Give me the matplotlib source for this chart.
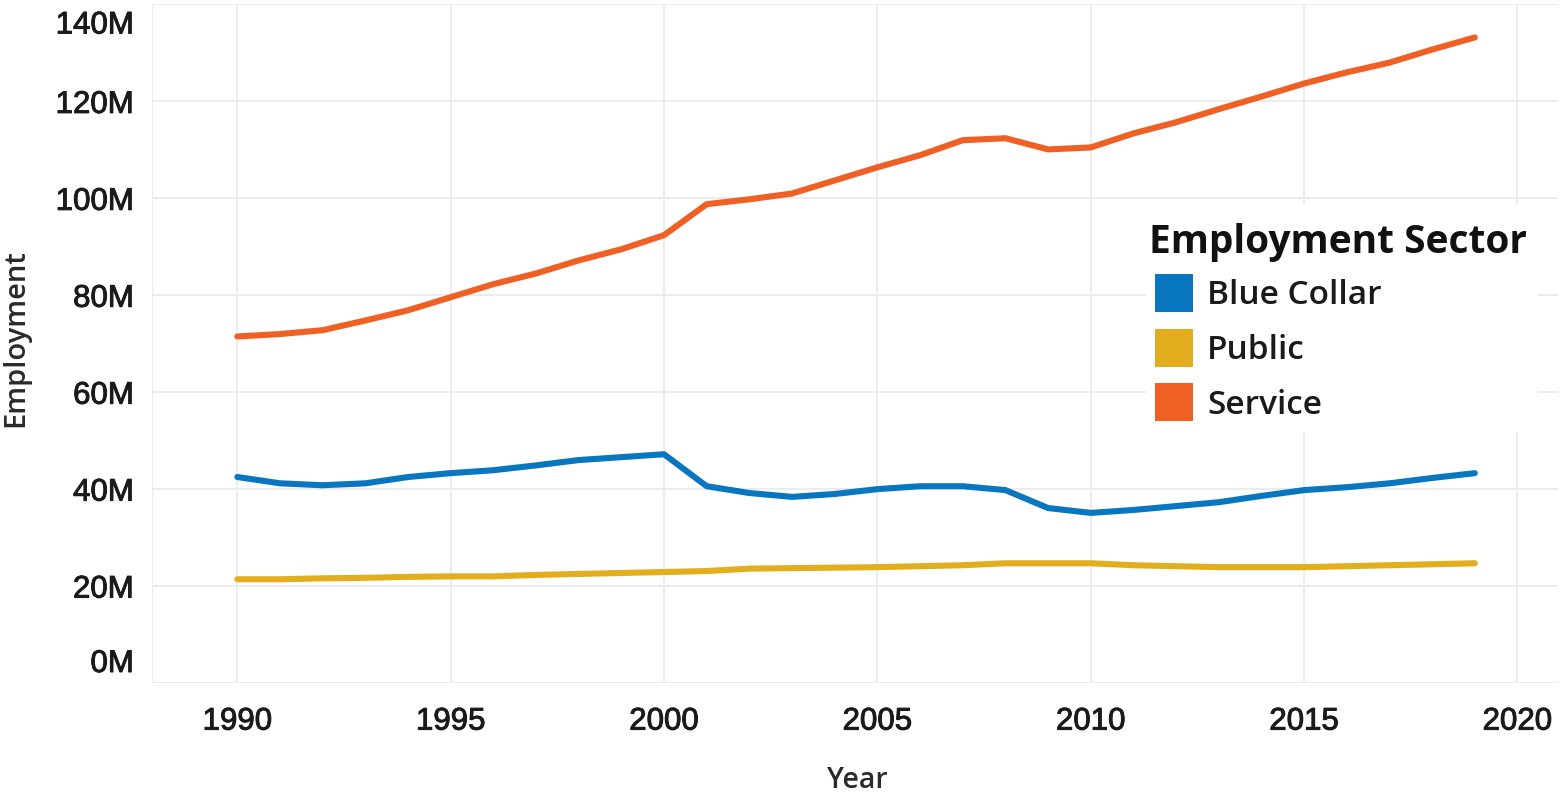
import matplotlib.pyplot as plt
import matplotlib.patheffects as pe
import matplotlib.transforms as mtransforms
from matplotlib.patches import Rectangle

years = list(range(1990, 2020))

# employment in millions
blue_collar = [42.5, 41.2, 40.8, 41.2, 42.5, 43.3, 43.9, 44.9, 46.0, 46.6,
               47.2, 40.6, 39.2, 38.4, 39.0, 40.0, 40.6, 40.6, 39.8, 36.1,
               35.1, 35.7, 36.5, 37.3, 38.6, 39.8, 40.4, 41.2, 42.3, 43.3]
public = [21.4, 21.4, 21.6, 21.7, 21.9, 22.0, 22.0, 22.3, 22.5, 22.7,
          22.9, 23.1, 23.6, 23.7, 23.8, 23.9, 24.1, 24.3, 24.7, 24.7,
          24.7, 24.3, 24.1, 23.9, 23.9, 23.9, 24.1, 24.3, 24.5, 24.7]
service = [71.5, 72.0, 72.8, 74.8, 76.9, 79.6, 82.3, 84.5, 87.2, 89.5,
           92.4, 98.8, 99.8, 101.0, 103.7, 106.4, 108.9, 112.0, 112.4, 110.1,
           110.5, 113.4, 115.7, 118.4, 121.0, 123.7, 126.0, 128.0, 130.7, 133.2]

sectors = ["Blue Collar", "Public", "Service"]
colors = ["#0877c0", "#e3ae1e", "#f05f24"]
series = [blue_collar, public, service]

y_ticks = [0, 20, 40, 60, 80, 100, 120, 140]
x_ticks = [1990, 1995, 2000, 2005, 2010, 2015, 2020]

W, H = 1560, 792
fig = plt.figure(figsize=(W / 100, H / 100), dpi=100)
ax = fig.add_axes([152 / W, (H - 683) / H, (1558 - 152) / W, (683 - 4) / H])


def px(x, y):
    # pixel position (from top-left) -> figure fraction
    return x / W, 1 - y / H


for vals, col, name in zip(series, colors, sectors):
    ax.plot(years, [v * 1e6 for v in vals], color=col, lw=4.4,
            solid_capstyle="round", solid_joinstyle="round", label=name, zorder=3)

ax.set_xlim(1988.0, 2020.95)
ax.set_ylim(0, 140.1e6)
ax.set_xticks(x_ticks)
ax.set_yticks([t * 1e6 for t in y_ticks])
ax.set_yticklabels([f"{t}M" for t in y_ticks])

for s in ax.spines.values():
    s.set_visible(False)
ax.grid(True, color="#ececec", lw=1.4)
ax.set_axisbelow(True)
ax.axvline(1988.0, color="#ececec", lw=1.4, zorder=0)
ax.tick_params(length=0, labelsize=22.5, labelcolor="#1a1a1a")
ax.tick_params(axis="y", pad=13)
ax.tick_params(axis="x", pad=17)
heavy = [pe.withStroke(linewidth=0.7, foreground="#1a1a1a")]
for lab in ax.get_xticklabels() + ax.get_yticklabels():
    lab.set_fontfamily("Liberation Sans")
    lab.set_path_effects(heavy)

# Tableau keeps the end labels inside the axis range
ylabs = ax.get_yticklabels()
ylabs[0].set_va("bottom")
ylabs[0].set_transform(ylabs[0].get_transform() + mtransforms.ScaledTranslation(0, 4 / 100, fig.dpi_scale_trans))
ylabs[-1].set_va("top")
ylabs[-1].set_transform(ylabs[-1].get_transform() + mtransforms.ScaledTranslation(0, -6 / 100, fig.dpi_scale_trans))

fig.text(*px(857, 780), "Year", fontsize=20.5, family="Open Sans", weight="semibold",
         color="#2a2a2a", ha="center", va="center")
fig.text(*px(16, 338), "Employment", fontsize=21, family="Open Sans", weight="semibold",
         color="#2a2a2a", ha="center", va="center", rotation=90)

# legend box, drawn by hand to match Tableau's layout
fig.add_artist(Rectangle(px(1146, 432), (1538 - 1146) / W, (432 - 205) / H,
                         transform=fig.transFigure, facecolor="white", edgecolor="none"))
fig.text(*px(1149, 242), "Employment Sector", fontsize=28, family="Open Sans", weight="bold",
         color="#111111", ha="left", va="center")
for i, (name, col) in enumerate(zip(sectors, colors)):
    yc = 293 + i * 54.5
    fig.add_artist(Rectangle(px(1155, yc + 19), 38 / W, 38 / H,
                             transform=fig.transFigure, facecolor=col, edgecolor="none"))
    fig.text(*px(1207, yc + 3), name, fontsize=24, family="Open Sans", weight="semibold",
             color="#1a1a1a", ha="left", va="center")

fig.savefig("out.png", dpi=100)
